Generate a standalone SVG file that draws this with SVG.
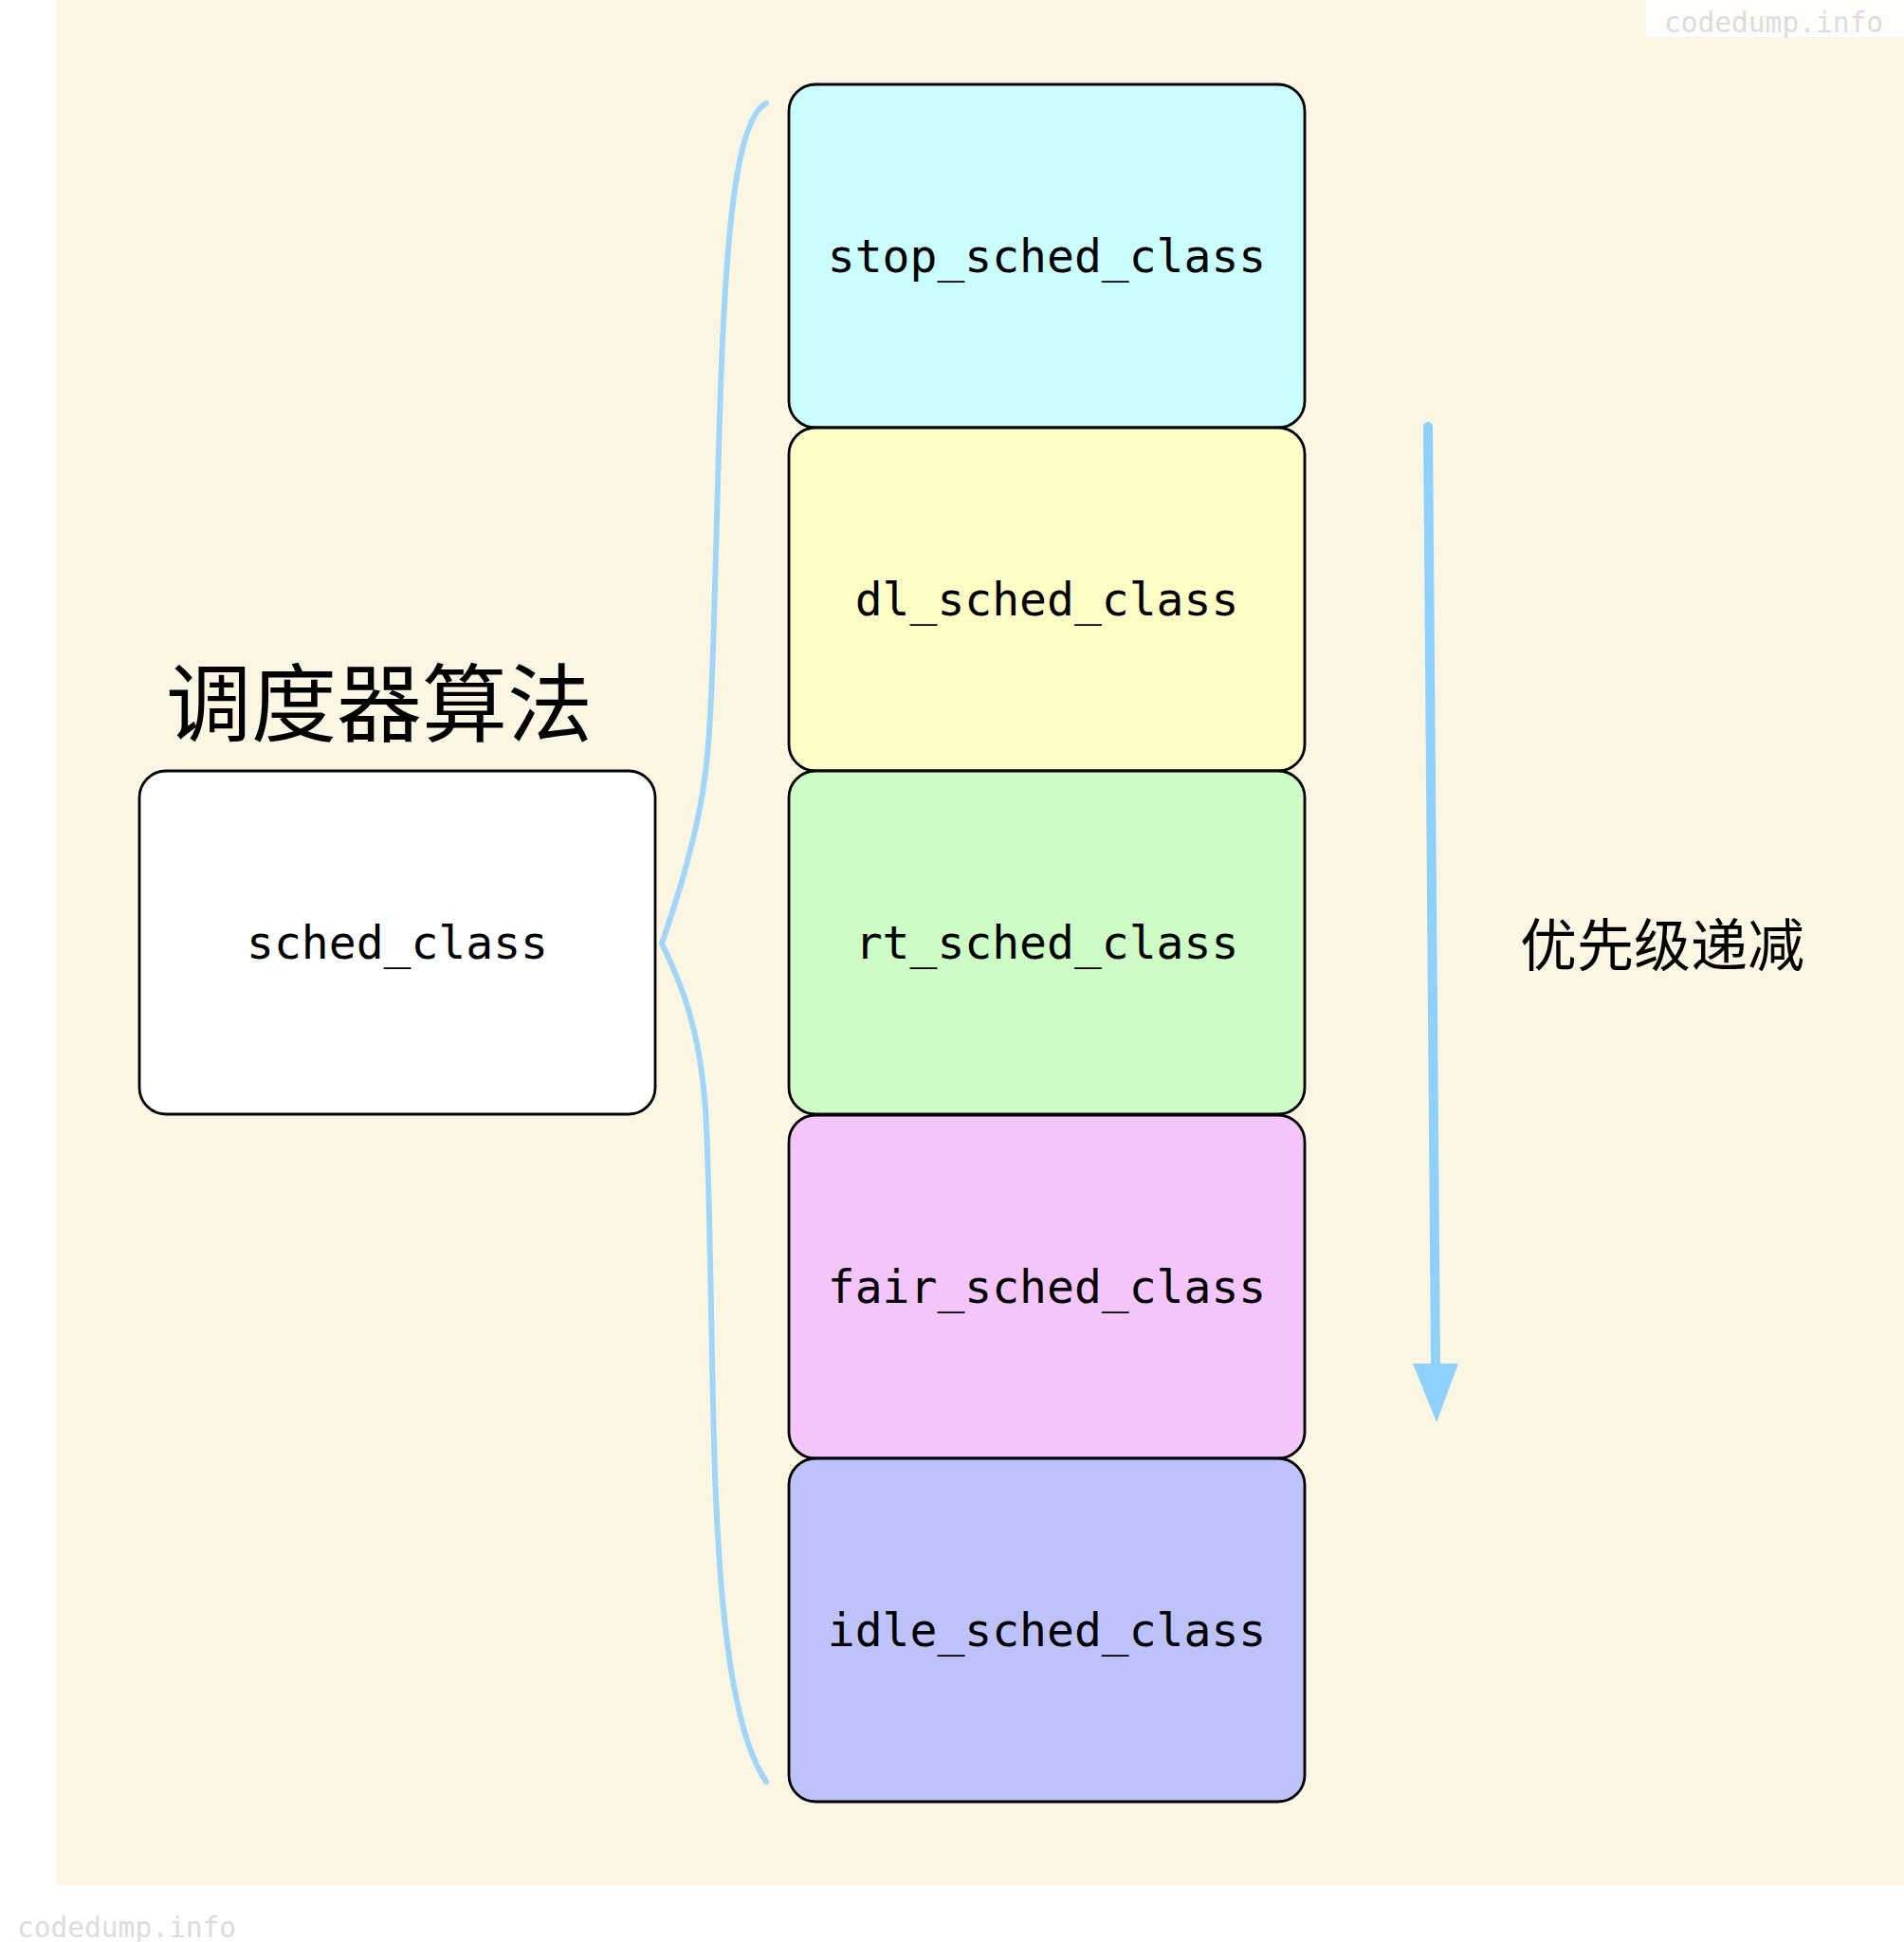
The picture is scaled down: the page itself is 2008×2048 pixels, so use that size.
<svg xmlns="http://www.w3.org/2000/svg" width="2008" height="2048" viewBox="0 0 2008 2048">
<style>
.box{stroke:#000;stroke-width:2.8}
.lbl{font-family:"DejaVu Sans Mono","Liberation Mono",monospace;font-size:48px;fill:#000;text-anchor:middle}
.cjk{font-family:"Noto Sans CJK SC","Noto Sans",sans-serif;fill:#000;text-anchor:middle}
.wm{font-family:"DejaVu Sans Mono","Liberation Mono",monospace;font-size:30px;fill:#dcdcdc}
</style>
<rect x="0" y="0" width="2008" height="2048" fill="#ffffff"/>
<rect x="59" y="0" width="1949" height="1988" fill="#fbf6e4"/>
<rect x="1736" y="0" width="272" height="39" fill="#fefdfa"/>
<text class="wm" x="1755" y="34" textLength="231" lengthAdjust="spacingAndGlyphs">codedump.info</text>
<text class="wm" x="18" y="2043" textLength="231" lengthAdjust="spacingAndGlyphs">codedump.info</text>

<text class="cjk" x="400" y="775" font-size="90">调度器算法</text>
<text class="cjk" x="1753" y="1019" font-size="60">优先级递减</text>

<g id="connectors">
  <path d="M808,109 C777,125 765,240 759,440 C753,640 752,750 744,815 C736,880 715,945 698,995 C715,1030 738,1080 744,1170 C750,1260 750,1500 756,1600 C762,1720 775,1830 808,1879" fill="none" stroke="#a2d6f9" stroke-width="6" stroke-linecap="round" stroke-linejoin="round"/>
  <line x1="1506" y1="450" x2="1514" y2="1442" stroke="#8ed1fc" stroke-width="10" stroke-linecap="round"/>
  <polygon points="1490,1438 1538,1438 1515,1500" fill="#8ed1fc"/>
</g>

<g id="sched_class">
  <rect class="box" x="147" y="813" width="544" height="362" rx="28" fill="#ffffff"/>
  <text class="lbl" x="419" y="1011">sched_class</text>
</g>
<g id="stop_sched_class">
  <rect class="box" x="832" y="89" width="544" height="362" rx="28" fill="#c9fdfe"/>
  <text class="lbl" x="1104" y="287">stop_sched_class</text>
</g>
<g id="dl_sched_class">
  <rect class="box" x="832" y="451" width="544" height="362" rx="28" fill="#fefdc6"/>
  <text class="lbl" x="1104" y="649">dl_sched_class</text>
</g>
<g id="rt_sched_class">
  <rect class="box" x="832" y="813" width="544" height="362" rx="28" fill="#cefcc5"/>
  <text class="lbl" x="1104" y="1011">rt_sched_class</text>
</g>
<g id="fair_sched_class">
  <rect class="box" x="832" y="1176" width="544" height="362" rx="28" fill="#f3c5fa"/>
  <text class="lbl" x="1104" y="1374">fair_sched_class</text>
</g>
<g id="idle_sched_class">
  <rect class="box" x="832" y="1538" width="544" height="362" rx="28" fill="#bec2fa"/>
  <text class="lbl" x="1104" y="1736">idle_sched_class</text>
</g>
</svg>
